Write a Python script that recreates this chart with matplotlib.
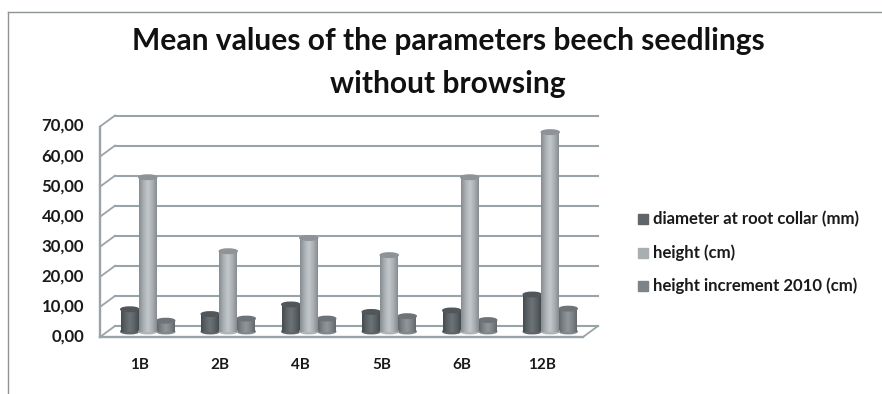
import numpy as np
import matplotlib
matplotlib.use("Agg")
import matplotlib.pyplot as plt
from matplotlib.patches import Ellipse, Rectangle
from matplotlib.colors import LinearSegmentedColormap
from matplotlib.transforms import ScaledTranslation

categories = ["1B", "2B", "4B", "5B", "6B", "12B"]
diameter = [7.4, 5.8, 9.0, 6.5, 7.0, 12.3]
height = [51.3, 26.7, 31.1, 25.4, 51.3, 66.3]
increment = [3.6, 4.3, 4.3, 5.1, 3.8, 7.6]
series_names = ["diameter at root collar (mm)", "height (cm)", "height increment 2010 (cm)"]
y_ticks = [0, 10, 20, 30, 40, 50, 60, 70]
y_labels = ["0,00", "10,00", "20,00", "30,00", "40,00", "50,00", "60,00", "70,00"]

W, H = 882, 394
FONT = "Lato"
GRID = "#9aa3a8"
TXT = "#1a1a1a"

fig = plt.figure(figsize=(W / 100, H / 100), dpi=100, facecolor="white")

def box(l, t, r, b):
    return [l / W, 1 - b / H, (r - l) / W, (b - t) / H]

ax = fig.add_axes(box(107.5, 121.0, 590.5, 331.5))
ax.set_xlim(-0.5, 5.5)
ax.set_ylim(0, 70)
ax.axis("off")

def px(dx, dy):
    return ax.transData + ScaledTranslation(dx / 100, dy / 100, fig.dpi_scale_trans)

back = px(7.5, 5.5)
front = px(-7.5, -5.5)
xl, xr = -0.5, 5.5
for v in y_ticks:
    ax.plot([xl, xr], [v, v], transform=back, color=GRID, lw=1.5, clip_on=False, zorder=1)
    x0, y0 = front.transform((xl, v))
    x1, y1 = back.transform((xl, v))
    fig.add_artist(plt.Line2D([x0 / W, x1 / W], [y0 / H, y1 / H], color=GRID, lw=1.3))
ax.plot([xl, xl], [0, 70], transform=front, color=GRID, lw=1.7, clip_on=False, zorder=1)
ax.plot([xl, xr], [0, 0], transform=front, color=GRID, lw=1.7, clip_on=False, zorder=1)
x0, y0 = front.transform((xr, 0))
x1, y1 = back.transform((xr, 0))
fig.add_artist(plt.Line2D([x0 / W, x1 / W], [y0 / H, y1 / H], color=GRID, lw=1.3))

def cmap(c0, c1, c2):
    return LinearSegmentedColormap.from_list("c", [c0, c1, c2, c1, c0])

styles = [
    (cmap("#454b4f", "#5c6367", "#6d7478"), "#50565a", "#5f6568"),
    (cmap("#858b8f", "#aab0b3", "#c2c7ca"), "#8d9396", "#a9aeb1"),
    (cmap("#62686c", "#7d8387", "#90969a"), "#6d7377", "#7d8387"),
]
bar_w = 18 / 80.5
cap = 0.75
grad = np.linspace(0, 1, 64).reshape(1, -1)
xs = np.arange(len(categories))
zorders = [3, 5, 4]
for k, vals in enumerate([diameter, height, increment]):
    cm, capc, legc = styles[k]
    z = zorders[k]
    for x, v in zip(xs, vals):
        cx = x + (k - 1) * bar_w
        ax.add_patch(Ellipse((cx, 0), bar_w, 2 * cap, color=cm(0.3), zorder=z, clip_on=False))
        im = ax.imshow(grad, cmap=cm, aspect="auto", zorder=z, extent=(cx - bar_w / 2, cx + bar_w / 2, 0, v))
        im.set_clip_path(Rectangle((cx - bar_w / 2, 0), bar_w, v, transform=ax.transData))
        ax.add_patch(Ellipse((cx, v), bar_w, 2 * cap, color=capc, zorder=z + 0.1, clip_on=False))
    yc = 219.5 + k * 33
    fig.add_artist(Rectangle((638 / W, 1 - (yc + 5) / H), 10 / W, 10 / H, transform=fig.transFigure, color=legc))
    fig.text(653 / W, 1 - yc / H, series_names[k], fontsize=12.1, family=FONT,
             fontweight="bold", color=TXT, va="center", ha="left")
ax.set_xlim(-0.5, 5.5)
ax.set_ylim(0, 70)

for v, lab in zip(y_ticks, y_labels):
    fy = 1 - (336.5 - v * 3.007) / H
    fig.text(84 / W, fy, lab, fontsize=12.1, family=FONT, fontweight="bold", color=TXT, ha="right", va="center")
for x, c in zip(xs, categories):
    xd = ax.transData.transform((x, 0))[0]
    fig.text((xd - 8) / W, 1 - 365 / H, c, fontsize=11, family=FONT, fontweight="bold", color=TXT, ha="center", va="center")

fig.text(448 / W, 1 - 41 / H, "Mean values of the parameters beech seedlings", fontsize=21.65, family=FONT,
         fontweight="bold", color="#111111", ha="center", va="center")
fig.text(448 / W, 1 - 84 / H, "without browsing", fontsize=21.65, family=FONT,
         fontweight="bold", color="#111111", ha="center", va="center")

fig.add_artist(plt.Line2D([7.5 / W, 7.5 / W], [0, 1 - 11.5 / H], color="#8e9396", lw=1.0))
fig.add_artist(plt.Line2D([7.5 / W, 1], [1 - 11.5 / H, 1 - 11.5 / H], color="#8e9396", lw=1.0))

fig.savefig("out.png", dpi=100, facecolor="white")
